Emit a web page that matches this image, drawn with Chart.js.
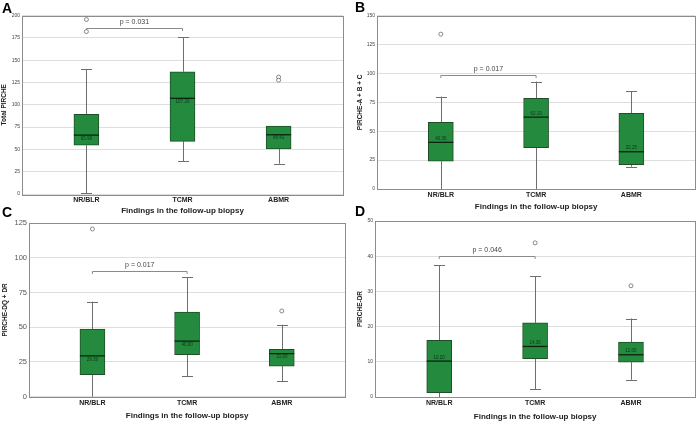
<!DOCTYPE html>
<html>
<head>
<meta charset="utf-8">
<script src="https://cdn.jsdelivr.net/npm/chart.js@4.4.0/dist/chart.umd.min.js"></script>
<style>
  html, body { margin: 0; padding: 0; background: #fff; }
  #wrap { position: relative; width: 700px; height: 422px; overflow: hidden; }
  canvas { position: absolute; }
</style>
</head>
<body>
<div id="wrap">
  <canvas id="panelA" width="350" height="216" style="left:0;top:0"></canvas>
  <canvas id="panelB" width="350" height="216" style="left:350px;top:0"></canvas>
  <canvas id="panelC" width="350" height="218" style="left:0;top:204px"></canvas>
  <canvas id="panelD" width="350" height="218" style="left:350px;top:204px"></canvas>
</div>
<script>
const categories = ['NR/BLR', 'TCMR', 'ABMR'];
const xTitle = 'Findings in the follow-up biopsy';

// A - total PIRCHE
const totalLow = [1, 36.6, 34];
const totalQ1 = [54.6, 59, 50.5];
const totalMedian = [65.98, 107.20, 66.41];
const totalQ3 = [89.3, 137, 76];
const totalHigh = [140, 175.7, 76];
const totalOutliers = [[195.5, 182], [], [131, 127.5]];
const totalAxis = [0, 200, 25];

// B - PIRCHE-A + B + C
const classILow = [0, 0, 19.3];
const classIQ1 = [24, 35.8, 21];
const classIMedian = [40.36, 62.19, 32.25];
const classIQ3 = [57.7, 78.5, 65.5];
const classIHigh = [80, 93, 84.8];
const classIOutliers = [[134], [], []];
const classIAxis = [0, 150, 25];

// C - PIRCHE-DQ + DR
const classIILow = [0, 14.6, 11];
const classIIQ1 = [15.8, 30.2, 22];
const classIIMedian = [29.39, 40.00, 31.00];
const classIIQ3 = [48.7, 60.9, 34];
const classIIHigh = [68.4, 85.9, 51.8];
const classIIOutliers = [[120.7], [], [61.7]];
const classIIAxis = [0, 125, 25];

// D - PIRCHE-DR
const drLow = [0, 2.2, 4.9];
const drQ1 = [1.2, 10.9, 9.9];
const drMedian = [10.20, 14.36, 12.00];
const drQ3 = [16.1, 21.1, 15.6];
const drHigh = [37.5, 34.3, 22.3];
const drOutliers = [[], [43.8], [31.6]];
const drAxis = [0, 50, 10];

// p values for NR/BLR vs TCMR: [label, bracket level]
const pA = ['p = 0.031', 185.8];
const pB = ['p = 0.017', 98.4];
const pC = ['p = 0.017', 90.2];
const pD = ['p = 0.046', 40.0];

const FONT = '"Liberation Sans", Arial, sans-serif';
const BOX_FILL = '#238a3e';
const BOX_EDGE = '#1f4f2a';
const WHISKER = '#6e6e6e';

function makeBoxPlugin(d, lay) {
  return {
    id: 'boxplot',
    beforeDatasetsDraw(chart) {
      const { ctx, scales: { x, y } } = chart;
      ctx.save();
      ctx.strokeStyle = WHISKER;
      ctx.lineWidth = 1;
      ctx.beginPath();
      d.low.forEach((lo, i) => {
        const px = Math.round(x.getPixelForValue(i)) + 0.5;
        ctx.moveTo(px, y.getPixelForValue(lo));
        ctx.lineTo(px, y.getPixelForValue(d.q1[i]));
        ctx.moveTo(px, y.getPixelForValue(d.q3[i]));
        ctx.lineTo(px, y.getPixelForValue(d.high[i]));
        const caps = [lo];
        if (d.high[i] > d.q3[i]) caps.push(d.high[i]);
        caps.forEach(v => {
          const py = Math.round(y.getPixelForValue(v)) + 0.5;
          ctx.moveTo(px - 5.5, py);
          ctx.lineTo(px + 5.5, py);
        });
      });
      ctx.stroke();

      // significance bracket
      const bx1 = x.getPixelForValue(0), bx2 = x.getPixelForValue(1);
      const by = Math.round(y.getPixelForValue(d.p[1])) + 0.5;
      ctx.strokeStyle = '#8a8a8a';
      ctx.beginPath();
      ctx.moveTo(bx1, by + 2.5);
      ctx.lineTo(bx1, by);
      ctx.lineTo(bx2, by);
      ctx.lineTo(bx2, by + 2.5);
      ctx.stroke();
      ctx.fillStyle = '#444';
      ctx.font = '7px ' + FONT;
      ctx.textAlign = 'center';
      ctx.textBaseline = 'middle';
      ctx.fillText(d.p[0], (bx1 + bx2) / 2, by - 6);
      ctx.restore();
    },
    afterDatasetsDraw(chart) {
      const { ctx, scales: { x, y } } = chart;
      ctx.save();
      d.median.forEach((m, i) => {
        const px = x.getPixelForValue(i);
        const py = y.getPixelForValue(m);
        ctx.strokeStyle = '#0c2412';
        ctx.lineWidth = 1.3;
        ctx.beginPath();
        ctx.moveTo(px - 12.5, py);
        ctx.lineTo(px + 12.5, py);
        ctx.stroke();
        ctx.fillStyle = 'rgba(10,40,15,0.85)';
        ctx.font = '4.5px ' + FONT;
        ctx.textAlign = 'center';
        ctx.textBaseline = 'middle';
        ctx.fillText(m.toFixed(2), px, py + lay.labelShift);
      });
      ctx.restore();
    },
    afterDraw(chart) {
      const { ctx, chartArea: a } = chart;
      ctx.save();
      ctx.strokeStyle = '#8c8c8c';
      ctx.lineWidth = 1;
      ctx.strokeRect(Math.round(a.left) + 0.5, Math.round(a.top) + 0.5,
        Math.round(a.right - a.left), Math.round(a.bottom - a.top));
      ctx.fillStyle = '#000';
      ctx.font = 'bold 14px ' + FONT;
      ctx.textAlign = 'left';
      ctx.textBaseline = 'middle';
      ctx.fillText(d.letter, lay.letterX, lay.letterY);
      ctx.restore();
    }
  };
}

function buildPanel(canvasId, d, lay) {
  new Chart(document.getElementById(canvasId), {
    type: 'bar',
    data: {
      datasets: [
        {
          type: 'bar',
          data: categories.map((c, i) => ({ x: i, y: [d.q1[i], d.q3[i]] })),
          backgroundColor: BOX_FILL,
          borderColor: BOX_EDGE,
          borderWidth: 1,
          borderSkipped: false,
          barThickness: 25,
          order: 2
        },
        {
          type: 'scatter',
          data: d.outliers.flatMap((arr, i) => arr.map(v => ({ x: i, y: v }))),
          pointStyle: 'circle',
          pointRadius: 2,
          borderColor: '#6a6a6a',
          backgroundColor: '#fff',
          borderWidth: 0.8,
          order: 1
        }
      ]
    },
    options: {
      responsive: false,
      animation: false,
      events: [],
      layout: { padding: { top: lay.top, right: lay.right, left: 0, bottom: 0 } },
      plugins: { legend: { display: false }, tooltip: { enabled: false } },
      scales: {
        x: {
          type: 'linear',
          min: -0.67,
          max: 2.67,
          offset: false,
          grid: { display: false, drawTicks: false },
          border: { display: false },
          afterBuildTicks: s => { s.ticks = categories.map((c, i) => ({ value: i })); },
          afterFit: s => { s.height = lay.xAxisH; },
          ticks: {
            autoSkip: false, maxRotation: 0, padding: 2, color: '#222',
            font: { family: FONT, size: 7, weight: 'bold' },
            callback: v => categories[v]
          },
          title: {
            display: true, text: xTitle, color: '#222',
            font: { family: FONT, size: 8, weight: 'bold' },
            padding: { top: 0, bottom: lay.xTitlePad }
          }
        },
        y: {
          min: d.axis[0],
          max: d.axis[1],
          grid: { color: '#dedede', drawTicks: false },
          border: { display: false },
          afterFit: s => { s.width = lay.yAxisW; },
          ticks: {
            stepSize: d.axis[2], padding: 2, color: lay.tickColor,
            font: { family: FONT, size: lay.tickSize }
          },
          title: {
            display: true, text: d.yTitle, color: '#222',
            font: { family: FONT, size: 6.5, weight: 'bold' },
            padding: { top: lay.yTitlePad, bottom: 0 }
          }
        }
      }
    },
    plugins: [makeBoxPlugin(d, lay)]
  });
}

buildPanel('panelA', {
  letter: 'A', yTitle: 'Total PIRCHE', axis: totalAxis, p: pA,
  low: totalLow, q1: totalQ1, median: totalMedian, q3: totalQ3, high: totalHigh, outliers: totalOutliers
}, { top: 15.5, right: 7, yAxisW: 22, xAxisH: 22, xTitlePad: 0, yTitlePad: 0.6,
     tickSize: 5, tickColor: '#444', labelShift: 3.5, letterX: 2, letterY: 9 });

buildPanel('panelB', {
  letter: 'B', yTitle: 'PIRCHE-A + B + C', axis: classIAxis, p: pB,
  low: classILow, q1: classIQ1, median: classIMedian, q3: classIQ3, high: classIHigh, outliers: classIOutliers
}, { top: 15.7, right: 2, yAxisW: 27, xAxisH: 27, xTitlePad: 4.2, yTitlePad: 6,
     tickSize: 5, tickColor: '#444', labelShift: -3.5, letterX: 5, letterY: 8.5 });

buildPanel('panelC', {
  letter: 'C', yTitle: 'PIRCHE-DQ + DR', axis: classIIAxis, p: pC,
  low: classIILow, q1: classIIQ1, median: classIIMedian, q3: classIIQ3, high: classIIHigh, outliers: classIIOutliers
}, { top: 19, right: 3, yAxisW: 29, xAxisH: 25.3, xTitlePad: 1.2, yTitlePad: 1.4,
     tickSize: 7.5, tickColor: '#555', labelShift: 3.5, letterX: 2, letterY: 9 });

buildPanel('panelD', {
  letter: 'D', yTitle: 'PIRCHE-DR', axis: drAxis, p: pD,
  low: drLow, q1: drQ1, median: drMedian, q3: drQ3, high: drHigh, outliers: drOutliers
}, { top: 17, right: 1, yAxisW: 25, xAxisH: 25, xTitlePad: 0.2, yTitlePad: 6,
     tickSize: 5, tickColor: '#444', labelShift: -3.5, letterX: 5, letterY: 8.5 });
</script>
</body>
</html>
